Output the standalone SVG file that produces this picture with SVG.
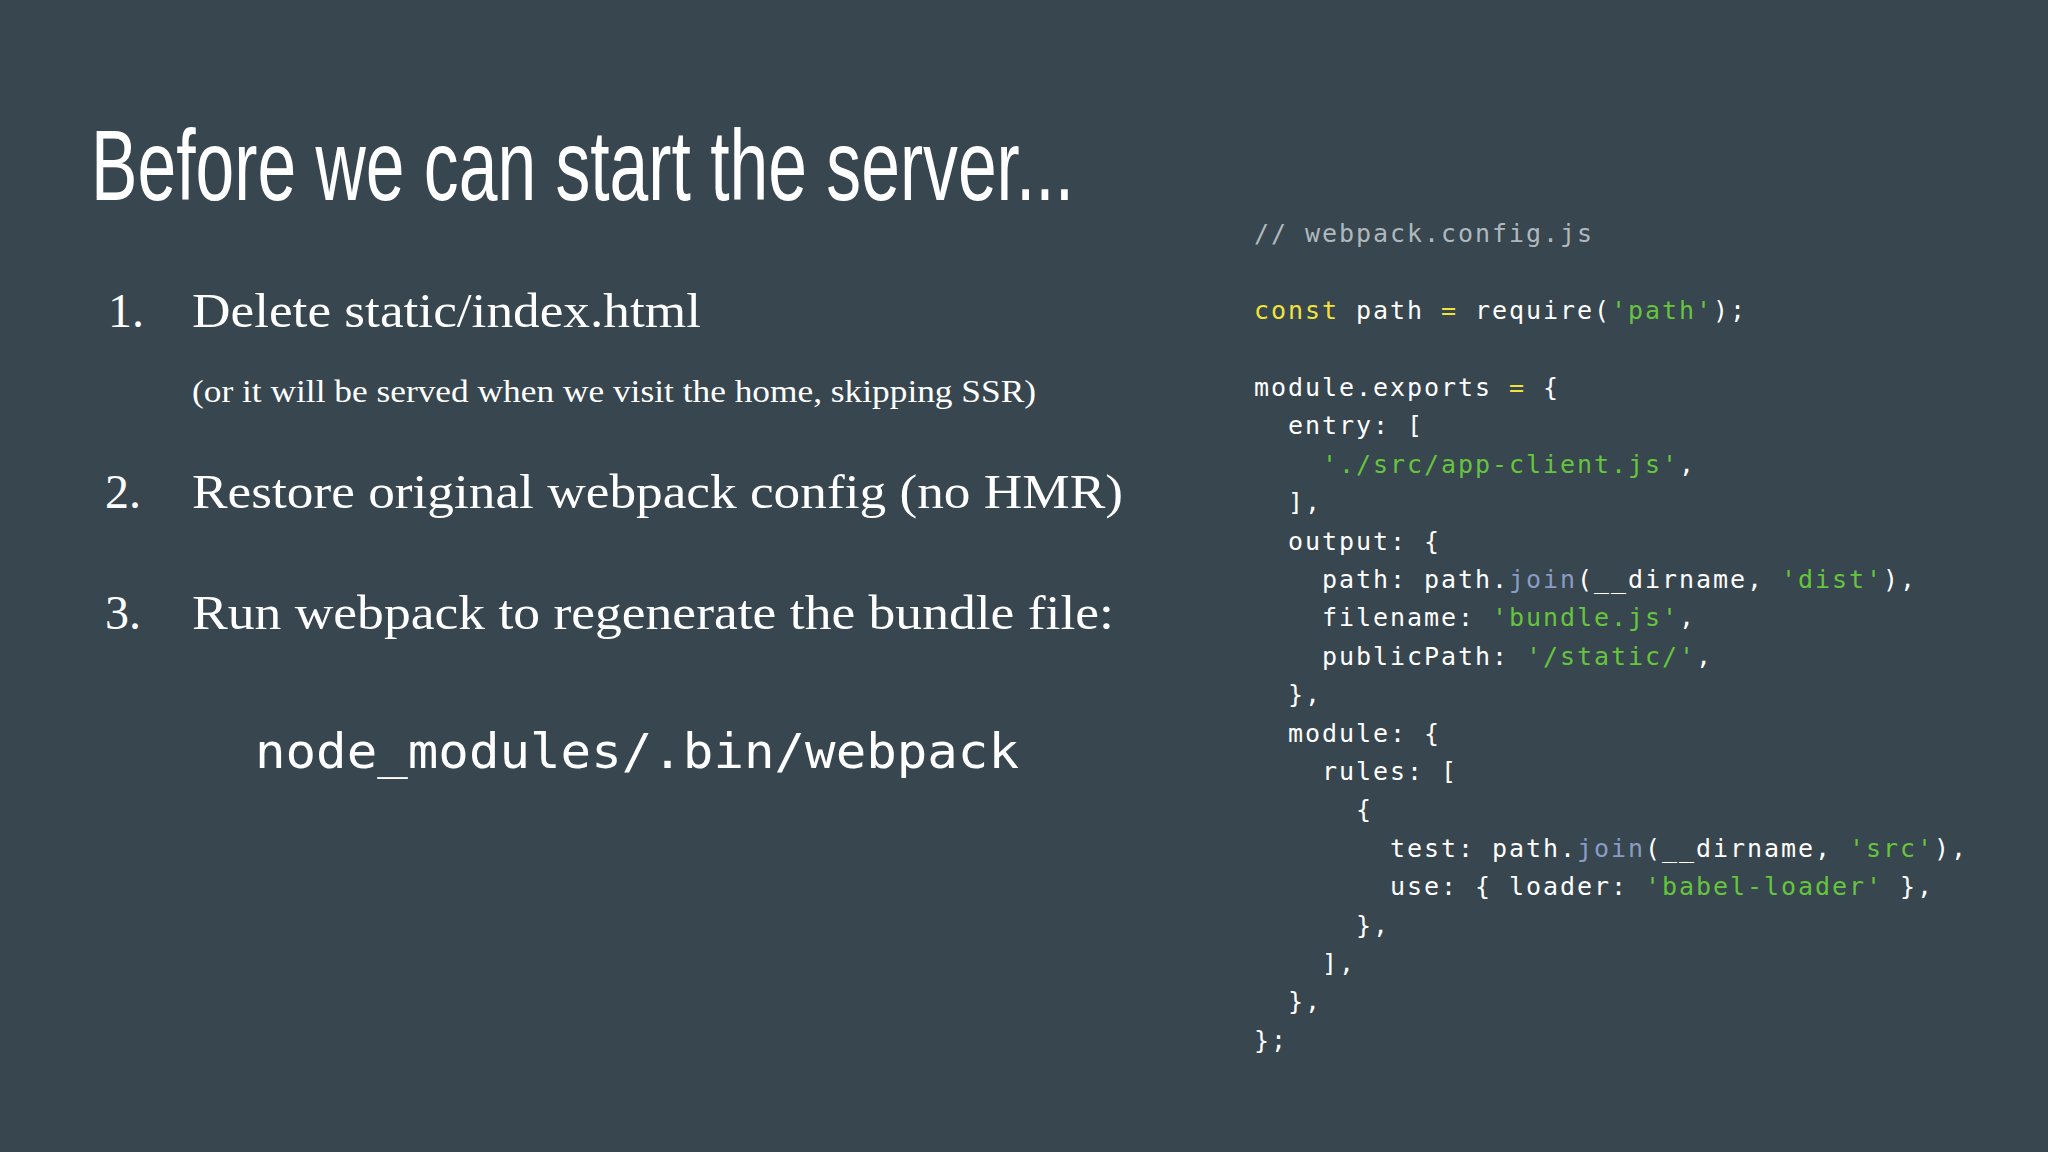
<svg xmlns="http://www.w3.org/2000/svg" width="2048" height="1152" viewBox="0 0 2048 1152">
<style>
.t{font-family:"Liberation Sans",Arial,sans-serif;fill:#fff}
.s{font-family:"Liberation Serif","Times New Roman",serif;fill:#fff}
.c{font-family:"DejaVu Sans Mono",monospace;font-size:25px;letter-spacing:1.95px;fill:#fff;white-space:pre}
.k{fill:#f2e33c}.g{fill:#66c43e}.b{fill:#8a9cc4}.m{fill:#b0b8bd}
</style>
<rect width="2048" height="1152" fill="#37464f"/>
<g id="title"><text class="t" x="91" y="200" font-size="100" textLength="983" lengthAdjust="spacingAndGlyphs">Before we can start the server...</text></g>
<g id="list">
<text class="s" x="108" y="327" font-size="48">1.</text>
<text class="s" x="192" y="327" font-size="48" textLength="509" lengthAdjust="spacingAndGlyphs">Delete static/index.html</text>
<text class="s" x="192" y="402" font-size="32" textLength="844" lengthAdjust="spacingAndGlyphs">(or it will be served when we visit the home, skipping SSR)</text>
<text class="s" x="105" y="508" font-size="48">2.</text>
<text class="s" x="192" y="508" font-size="48" textLength="931" lengthAdjust="spacingAndGlyphs">Restore original webpack config (no HMR)</text>
<text class="s" x="105" y="629" font-size="48">3.</text>
<text class="s" x="192" y="629" font-size="48" textLength="922" lengthAdjust="spacingAndGlyphs">Run webpack to regenerate the bundle file:</text>
<text x="255" y="768" font-family="DejaVu Sans Mono,monospace" font-size="48" fill="#fff" textLength="764" lengthAdjust="spacingAndGlyphs">node_modules/.bin/webpack</text>
</g>
<g id="code">
<text class="c" x="1254" y="242"><tspan class="m">// webpack.config.js</tspan></text>
<text class="c" x="1254" y="319"><tspan class="k">const</tspan> path <tspan class="k">=</tspan> require(<tspan class="g">'path'</tspan>);</text>
<text class="c" x="1254" y="396">module.exports <tspan class="k">=</tspan> {</text>
<text class="c" x="1254" y="434">  entry: [</text>
<text class="c" x="1254" y="473">    <tspan class="g">'./src/app-client.js'</tspan>,</text>
<text class="c" x="1254" y="511">  ],</text>
<text class="c" x="1254" y="550">  output: {</text>
<text class="c" x="1254" y="588">    path: path.<tspan class="b">join</tspan>(__dirname, <tspan class="g">'dist'</tspan>),</text>
<text class="c" x="1254" y="626">    filename: <tspan class="g">'bundle.js'</tspan>,</text>
<text class="c" x="1254" y="665">    publicPath: <tspan class="g">'/static/'</tspan>,</text>
<text class="c" x="1254" y="703">  },</text>
<text class="c" x="1254" y="742">  module: {</text>
<text class="c" x="1254" y="780">    rules: [</text>
<text class="c" x="1254" y="818">      {</text>
<text class="c" x="1254" y="857">        test: path.<tspan class="b">join</tspan>(__dirname, <tspan class="g">'src'</tspan>),</text>
<text class="c" x="1254" y="895">        use: { loader: <tspan class="g">'babel-loader'</tspan> },</text>
<text class="c" x="1254" y="934">      },</text>
<text class="c" x="1254" y="972">    ],</text>
<text class="c" x="1254" y="1010">  },</text>
<text class="c" x="1254" y="1049">};</text>
</g>
</svg>
